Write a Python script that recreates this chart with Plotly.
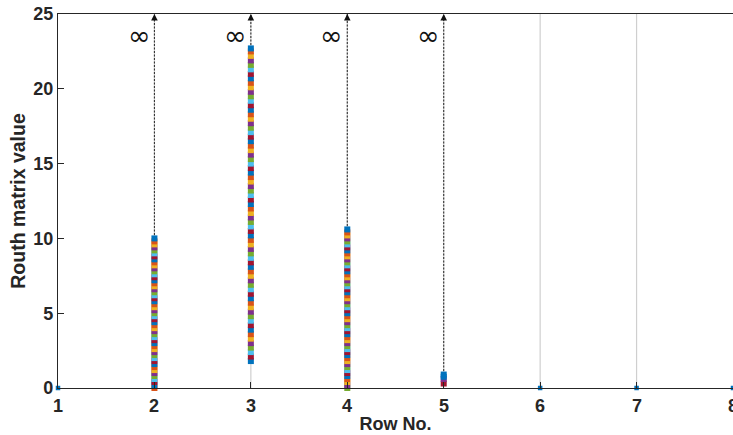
import plotly.graph_objects as go

# Routh array rows and the first-column values collected over the gain sweep
ROWS = [1, 2, 3, 4, 5, 6, 7, 8]
ROW2_VALUES = [0.0, 0.2, 0.4, 0.6, 0.8, 1.0, 1.2, 1.4, 1.6, 1.8,
               2.0, 2.2, 2.4, 2.6, 2.8, 3.0, 3.2, 3.4, 3.6, 3.8,
               4.0, 4.2, 4.4, 4.6, 4.8, 5.0, 5.2, 5.4, 5.6, 5.8,
               6.0, 6.2, 6.4, 6.6, 6.8, 7.0, 7.2, 7.4, 7.6, 7.8,
               8.0, 8.2, 8.4, 8.6, 8.8, 9.0, 9.2, 9.4, 9.6, 9.8, 10.0]
ROW3_VALUES = [1.8, 2.1, 2.4, 2.7, 3.0, 3.3, 3.6, 3.9, 4.2, 4.5,
               4.8, 5.1, 5.4, 5.7, 6.0, 6.3, 6.6, 6.9, 7.2, 7.5,
               7.8, 8.1, 8.4, 8.7, 9.0, 9.3, 9.6, 9.9, 10.2, 10.5,
               10.8, 11.1, 11.4, 11.7, 12.0, 12.3, 12.6, 12.9, 13.2, 13.5,
               13.8, 14.1, 14.4, 14.7, 15.0, 15.3, 15.6, 15.9, 16.2, 16.5,
               16.8, 17.1, 17.4, 17.7, 18.0, 18.3, 18.6, 18.9, 19.2, 19.5,
               19.8, 20.1, 20.4, 20.7, 21.0, 21.3, 21.6, 21.9, 22.2, 22.5, 22.7]
ROW4_VALUES = [0.0, 0.2, 0.4, 0.6, 0.8, 1.0, 1.2, 1.4, 1.6, 1.8,
               2.0, 2.2, 2.4, 2.6, 2.8, 3.0, 3.2, 3.4, 3.6, 3.8,
               4.0, 4.2, 4.4, 4.6, 4.8, 5.0, 5.2, 5.4, 5.6, 5.8,
               6.0, 6.2, 6.4, 6.6, 6.8, 7.0, 7.2, 7.4, 7.6, 7.8,
               8.0, 8.2, 8.4, 8.6, 8.8, 9.0, 9.2, 9.4, 9.6, 9.8,
               10.0, 10.2, 10.4, 10.6]
ROW5_VALUES = [0.3, 0.6, 0.75, 0.9]
ZERO_ROWS = [1, 6, 7, 8]
ZERO_VALUES = [0.0, 0.0, 0.0, 0.0]
INF_ROWS = [2, 3, 4, 5]
GRID_ROWS = [2, 3, 4, 5, 6, 7]

X_TICKS = [1, 2, 3, 4, 5, 6, 7, 8]
X_TICK_LABELS = ["1", "2", "3", "4", "5", "6", "7", "8"]
Y_TICKS = [0, 5, 10, 15, 20, 25]
Y_MAX = 25

PALETTE = ["#0072BD", "#D95319", "#EDB120", "#7E2F8E",
           "#77AC30", "#4DBEEE", "#A2142F"]
ROW5_COLORS = ["#A2142F", "#7E2F8E", "#0072BD", "#0072BD"]
FONT = "Liberation Sans, Arial, sans-serif"
INK = "#262626"


def cycle_colors(values):
    # newest sample on top keeps the first palette colour
    n = len(values)
    return [PALETTE[(n - 1 - i) % len(PALETTE)] for i in range(n)]


fig = go.Figure()

# light vertical guides through each row position
for r in GRID_ROWS:
    fig.add_trace(go.Scatter(x=[r, r], y=[0, Y_MAX], mode="lines",
                             line=dict(color="#cfcfcf", width=1.2),
                             hoverinfo="skip", showlegend=False))

columns = {2: ROW2_VALUES, 3: ROW3_VALUES, 4: ROW4_VALUES, 5: ROW5_VALUES}

# dotted arrows from the top of each stack to infinity
for r in INF_ROWS:
    top = max(columns[r])
    fig.add_trace(go.Scatter(x=[r, r], y=[top, Y_MAX], mode="lines",
                             line=dict(color="#333333", width=1.1, dash="2px,1.5px"),
                             hoverinfo="skip", showlegend=False))
    fig.add_annotation(x=r, y=Y_MAX, ax=r, ay=Y_MAX - 0.45,
                       xref="x", yref="y", axref="x", ayref="y",
                       showarrow=True, arrowhead=2, arrowsize=1.1,
                       arrowwidth=1.2, arrowcolor="#111111", text="")
    fig.add_annotation(x=r - 0.16, y=23.55, text="∞", showarrow=False,
                       font=dict(family="DejaVu Sans", size=27, color="#111111"))

for r, vals in columns.items():
    colors = ROW5_COLORS if r == 5 else cycle_colors(vals)
    fig.add_trace(go.Scatter(x=[r] * len(vals), y=vals, mode="markers",
                             marker=dict(symbol="square", size=6, color=colors,
                                         line=dict(width=0)),
                             cliponaxis=False, showlegend=False))

fig.add_trace(go.Scatter(x=ZERO_ROWS, y=ZERO_VALUES, mode="markers",
                         marker=dict(symbol="square", size=4.5, color=PALETTE[0],
                                     line=dict(width=0)),
                         cliponaxis=False, showlegend=False))

# x tick labels written as annotations so the last one may run past the edge
for xv, lab in zip(X_TICKS, X_TICK_LABELS):
    fig.add_annotation(x=xv, y=0, xref="x", yref="paper", yanchor="top",
                       yshift=-6, text=lab, showarrow=False,
                       font=dict(family=FONT, size=18, color=INK, weight="bold"))

axis_common = dict(showline=True, linecolor=INK, linewidth=1.3, mirror=True,
                   ticks="inside", ticklen=6, tickwidth=1.3, tickcolor=INK,
                   showgrid=False, zeroline=False,
                   tickfont=dict(family=FONT, size=18, color=INK, weight="bold"))

fig.update_layout(
    width=733, height=435,
    margin=dict(l=58, r=0, t=14, b=47),
    paper_bgcolor="white", plot_bgcolor="white",
    xaxis=dict(range=[1, 8], tickvals=X_TICKS, showticklabels=False,
               title=dict(text="Row No.", standoff=29,
                          font=dict(family=FONT, size=18, color=INK, weight="bold")),
               **axis_common),
    yaxis=dict(range=[0, Y_MAX], tickvals=Y_TICKS,
               title=dict(text="Routh matrix value", standoff=2,
                          font=dict(family=FONT, size=19.5, color=INK, weight="bold")),
               **axis_common),
)

fig.write_html("out.html")
